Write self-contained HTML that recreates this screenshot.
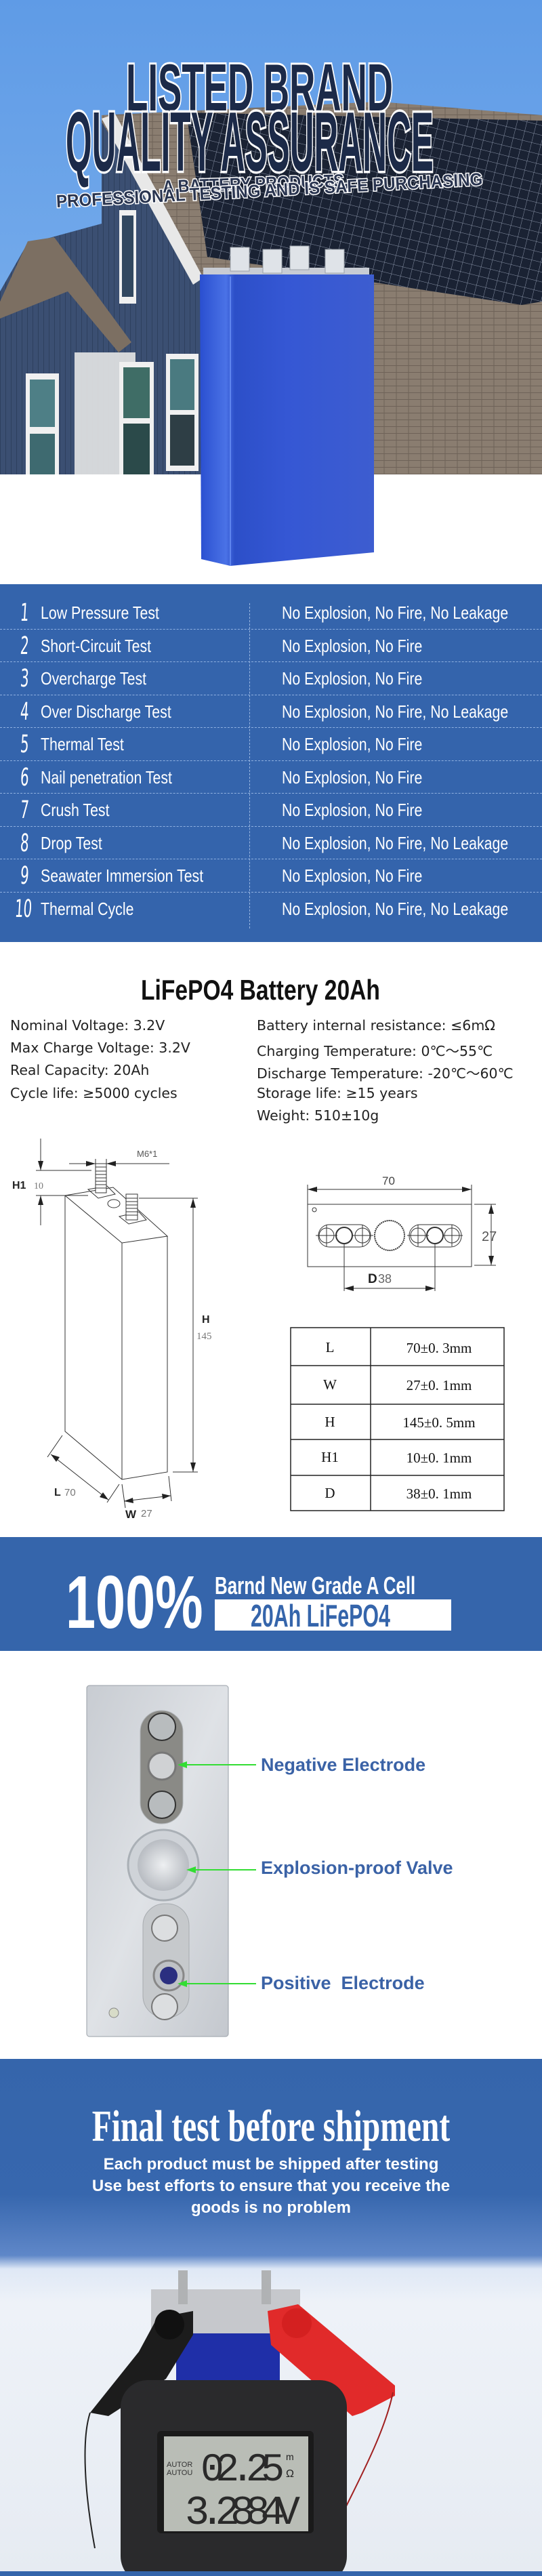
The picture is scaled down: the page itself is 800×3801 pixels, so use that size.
<!DOCTYPE html>
<html><head><meta charset="utf-8">
<style>
*{margin:0;padding:0;box-sizing:border-box}
body{width:800px;height:3801px;position:relative;background:#fff;overflow:hidden;font-family:"Liberation Sans",sans-serif}
.a{position:absolute;white-space:nowrap}
.cx{transform-origin:left center;display:inline-block}
.row{position:absolute;left:0;width:800px;height:48.5px;border-bottom:1px dashed #8fb0e0}
.row .n{position:absolute;left:30px;top:4px;font-size:36px;color:#fff;font-family:"DejaVu Sans",sans-serif;font-weight:normal;transform:scaleX(.55) skewX(-6deg);transform-origin:left}
.row .l{position:absolute;left:60px;top:9px;font-size:26px;color:#fff;transform:scaleX(.82);transform-origin:left}
.row .r{position:absolute;left:416px;top:9px;font-size:26px;color:#fff;transform:scaleX(.82);transform-origin:left}
.spec{position:absolute;font-family:"DejaVu Sans",sans-serif;font-size:20.5px;color:#222}
.lbl{position:absolute;left:385px;font-size:27px;font-weight:bold;color:#3a62a6;white-space:nowrap}
</style></head><body>

<!-- HERO -->
<svg class="a" style="left:0;top:0" width="800" height="860" viewBox="0 0 800 860">
<defs>
<linearGradient id="sky" x1="0" y1="0" x2="0" y2="1"><stop offset="0" stop-color="#5f9be6"/><stop offset="1" stop-color="#86b8ef"/></linearGradient>
<linearGradient id="bat" x1="0" y1="0" x2="1" y2="0"><stop offset="0" stop-color="#2a4fd0"/><stop offset=".15" stop-color="#4a72e6"/><stop offset=".2" stop-color="#2c4fc8"/><stop offset=".5" stop-color="#3557d4"/><stop offset="1" stop-color="#3d5dd0"/></linearGradient>
<pattern id="pv" width="14" height="14" patternUnits="userSpaceOnUse" patternTransform="rotate(14)"><rect width="14" height="14" fill="#1a2233"/><path d="M0 0H14M0 0V14" stroke="#8a94a8" stroke-width="1"/></pattern>
<pattern id="sh" width="18" height="10" patternUnits="userSpaceOnUse"><rect width="18" height="10" fill="#8a7d70"/><path d="M0 9.5H18M9 0V10" stroke="#6e6258" stroke-width="1"/></pattern>
<pattern id="sid" width="8" height="10" patternUnits="userSpaceOnUse"><rect width="8" height="10" fill="#3b4f72"/><path d="M0 0V10" stroke="#2a3a58" stroke-width="1.5"/></pattern>
</defs>
<rect width="800" height="860" fill="url(#sky)"/>
<polygon points="150,170 560,150 800,170 800,715 300,715 150,360" fill="url(#sh)"/>
<polygon points="275,166 800,178 800,445 770,450 306,379" fill="url(#pv)"/>
<polygon points="0,430 40,360 150,330 150,180 300,420 296,715 0,715" fill="url(#sid)"/>
<polygon points="0,445 41,356 80,350 194,505 175,520 100,430 0,470" fill="#7c6f62"/>
<polygon points="150,175 170,168 300,410 285,420" fill="#e8e8e8"/>
<polygon points="110,520 200,520 200,715 110,715" fill="#e6e6e6" opacity=".9"/>
<rect x="38" y="551" width="49" height="164" fill="#f0f0f0"/><rect x="44" y="560" width="37" height="70" fill="#4e7f86"/><rect x="44" y="640" width="37" height="70" fill="#3e6a70"/>
<rect x="176" y="534" width="51" height="172" fill="#f0f0f0"/><rect x="182" y="542" width="39" height="75" fill="#3f6d66"/><rect x="182" y="625" width="39" height="75" fill="#2b4a4a"/>
<rect x="245" y="522" width="48" height="173" fill="#f0f0f0"/><rect x="251" y="530" width="36" height="75" fill="#4a7a80"/><rect x="251" y="612" width="36" height="75" fill="#2e3e45"/>
<rect x="176" y="310" width="25" height="138" fill="#f0f0f0"/><rect x="180" y="318" width="17" height="120" fill="#324860"/>
<rect x="0" y="700" width="800" height="160" fill="#fff"/>
<rect x="300" y="395" width="245" height="22" fill="#c8ccd4"/>
<g fill="#dfe3e8" stroke="#9aa0a8"><rect x="340" y="365" width="28" height="35"/><rect x="388" y="368" width="28" height="35"/><rect x="428" y="363" width="28" height="35"/><rect x="480" y="368" width="28" height="35"/></g>
<polygon points="295,405 552,405 552,815 340,835 297,825" fill="url(#bat)"/>
<line x1="340" y1="408" x2="340" y2="835" stroke="#5f85ee" stroke-width="2"/>
</svg>
<div class="a" style="left:186px;top:80px;font-size:98px;font-weight:bold;color:#1c2a48;-webkit-text-stroke:6px #fff;paint-order:stroke fill;line-height:1"><span class="cx" style="transform:scaleX(.54)">LISTED BRAND</span></div>
<div class="a" style="left:97px;top:148px;font-size:124px;font-weight:bold;color:#1c2a48;-webkit-text-stroke:7px #fff;paint-order:stroke fill;line-height:1"><span class="cx" style="transform:scaleX(.4)">QUALITY ASSURANCE</span></div>
<div class="a" style="left:240px;top:255px;font-size:26px;font-weight:bold;color:#2a3550;-webkit-text-stroke:3px #fff;paint-order:stroke fill;transform:rotate(-2deg)"><span class="cx" style="transform:scaleX(.9)">A BATTERY PRODUCTS,</span></div>
<div class="a" style="left:83px;top:282px;font-size:26px;font-weight:bold;color:#2a3550;-webkit-text-stroke:3px #fff;paint-order:stroke fill;transform:rotate(-3deg);transform-origin:left"><span class="cx" style="transform:scaleX(.93)">PROFESSIONAL TESTING AND IS SAFE PURCHASING</span></div>

<!-- TEST TABLE -->
<div class="a" style="left:0;top:862px;width:800px;height:528px;background:#3464ac">
<div class="a" style="left:368px;top:28px;height:480px;border-left:1px dashed #9ab6e0"></div>
<div class="row" style="top:18px"><span class="n">1</span><span class="l">Low Pressure Test</span><span class="r">No Explosion, No Fire, No Leakage</span></div>
<div class="row" style="top:66.5px"><span class="n">2</span><span class="l">Short-Circuit Test</span><span class="r">No Explosion, No Fire</span></div>
<div class="row" style="top:115px"><span class="n">3</span><span class="l">Overcharge Test</span><span class="r">No Explosion, No Fire</span></div>
<div class="row" style="top:163.5px"><span class="n">4</span><span class="l">Over Discharge Test</span><span class="r">No Explosion, No Fire, No Leakage</span></div>
<div class="row" style="top:212px"><span class="n">5</span><span class="l">Thermal Test</span><span class="r">No Explosion, No Fire</span></div>
<div class="row" style="top:260.5px"><span class="n">6</span><span class="l">Nail penetration Test</span><span class="r">No Explosion, No Fire</span></div>
<div class="row" style="top:309px"><span class="n">7</span><span class="l">Crush Test</span><span class="r">No Explosion, No Fire</span></div>
<div class="row" style="top:357.5px"><span class="n">8</span><span class="l">Drop Test</span><span class="r">No Explosion, No Fire, No Leakage</span></div>
<div class="row" style="top:406px"><span class="n">9</span><span class="l">Seawater Immersion Test</span><span class="r">No Explosion, No Fire</span></div>
<div class="row" style="top:454.5px;border:none"><span class="n" style="left:22px">10</span><span class="l">Thermal Cycle</span><span class="r">No Explosion, No Fire, No Leakage</span></div>
</div>

<!-- SPECS -->
<div class="a" style="left:208px;top:1440px;font-size:42px;font-weight:bold;color:#111;line-height:1"><span class="cx" style="transform:scaleX(.8)">LiFePO4 Battery 20Ah</span></div>
<div class="spec" style="left:15px;top:1501px">Nominal Voltage: 3.2V</div>
<div class="spec" style="left:15px;top:1534px">Max Charge Voltage: 3.2V</div>
<div class="spec" style="left:15px;top:1567px">Real Capacity: 20Ah</div>
<div class="spec" style="left:15px;top:1601px">Cycle life: ≥5000 cycles</div>
<div class="spec" style="left:379px;top:1501px">Battery internal resistance: ≤6mΩ</div>
<div class="spec" style="left:379px;top:1534px">Charging Temperature: 0℃～55℃</div>
<div class="spec" style="left:379px;top:1567px">Discharge Temperature: -20℃～60℃</div>
<div class="spec" style="left:379px;top:1601px">Storage life: ≥15 years</div>
<div class="spec" style="left:379px;top:1634px">Weight: 510±10g</div>

<svg class="a" style="left:0;top:1650px" width="800" height="620" viewBox="0 1650 800 620" font-family="Liberation Sans">
<g fill="none" stroke="#333" stroke-width="1">
<polygon points="96,1764 167,1752 247,1824 180,1834"/>
<polyline points="96,1764 96,2112 180,2183 247,2172 247,1824"/>
<line x1="180" y1="1834" x2="180" y2="2183"/>
<path d="M130 1755 L158 1750 L170 1762 L145 1768 Z"/>
<rect x="141" y="1722" width="16" height="38" fill="#fff"/>
<path d="M141 1728h16M141 1733h16M141 1738h16M141 1743h16M141 1748h16M141 1753h16"/>
<path d="M176 1795 L205 1788 L216 1800 L190 1806 Z"/>
<rect x="186" y="1762" width="17" height="38" fill="#fff"/>
<path d="M186 1768h17M186 1773h17M186 1778h17M186 1783h17M186 1788h17M186 1793h17"/>
<ellipse cx="168" cy="1776" rx="9" ry="6"/>
<line x1="53" y1="1727" x2="135" y2="1727"/><line x1="53" y1="1764" x2="130" y2="1764"/>
<line x1="60" y1="1680" x2="60" y2="1727"/><line x1="60" y1="1764" x2="60" y2="1808"/>
<line x1="102" y1="1717" x2="250" y2="1717"/>
<line x1="141" y1="1710" x2="141" y2="1725"/><line x1="157" y1="1710" x2="157" y2="1725"/>
<line x1="205" y1="1768" x2="292" y2="1768"/><line x1="255" y1="2172" x2="292" y2="2172"/>
<line x1="285" y1="1768" x2="285" y2="2172"/>
<line x1="75" y1="2146" x2="160" y2="2213"/><line x1="70" y1="2150" x2="92" y2="2118"/><line x1="158" y1="2217" x2="176" y2="2190"/>
<line x1="183" y1="2215" x2="252" y2="2207"/><line x1="180" y1="2190" x2="185" y2="2225"/><line x1="249" y1="2178" x2="253" y2="2215"/>
</g>
<g fill="#222">
<polygon points="60,1727 56,1713 64,1713"/><polygon points="60,1764 56,1778 64,1778"/>
<polygon points="141,1717 127,1713 127,1721"/><polygon points="157,1717 171,1713 171,1721"/>
<polygon points="285,1768 281,1782 289,1782"/><polygon points="285,2172 281,2158 289,2158"/>
<polygon points="75,2146 88,2150 83,2157"/><polygon points="160,2213 147,2209 152,2202"/>
<polygon points="183,2215 196,2210 197,2218"/><polygon points="252,2207 239,2204 240,2212"/>
</g>
<text x="18" y="1754" font-size="16" font-weight="bold" fill="#222">H1</text><text x="50" y="1754" font-size="14" fill="#777" font-family="Liberation Serif">10</text>
<text x="202" y="1707" font-size="13" fill="#555">M6*1</text>
<text x="298" y="1952" font-size="16" font-weight="bold" fill="#222">H</text><text x="290" y="1976" font-size="15" fill="#777" font-family="Liberation Serif">145</text>
<text x="80" y="2207" font-size="16" font-weight="bold" fill="#222">L</text><text x="95" y="2207" font-size="15" fill="#777">70</text>
<text x="185" y="2240" font-size="17" font-weight="bold" fill="#222">W</text><text x="208" y="2238" font-size="15" fill="#777">27</text>

<g fill="none" stroke="#333" stroke-width="1">
<rect x="454" y="1777" width="242" height="92"/>
<line x1="454" y1="1748" x2="454" y2="1777"/><line x1="696" y1="1748" x2="696" y2="1777"/>
<line x1="454" y1="1755" x2="696" y2="1755"/>
<line x1="700" y1="1777" x2="732" y2="1777"/><line x1="700" y1="1867" x2="732" y2="1867"/>
<line x1="725" y1="1777" x2="725" y2="1867"/>
<circle cx="464" cy="1785" r="3"/>
<rect x="470" y="1807" width="77" height="33" rx="16"/><rect x="604" y="1807" width="77" height="33" rx="16"/>
<circle cx="482" cy="1823" r="11"/><circle cx="508" cy="1823" r="12" stroke-width="2"/><circle cx="535" cy="1823" r="11"/>
<circle cx="617" cy="1823" r="11"/><circle cx="642" cy="1823" r="12" stroke-width="2"/><circle cx="667" cy="1823" r="11"/>
<path d="M466 1823h32M519 1823h32M601 1823h32M655 1823h28M482 1807v32M535 1807v32M617 1807v32M667 1807v32"/>
<circle cx="575" cy="1823" r="22" stroke-dasharray="2 1" stroke-width="2"/>
<line x1="508" y1="1835" x2="508" y2="1905"/><line x1="642" y1="1835" x2="642" y2="1905"/>
<line x1="508" y1="1901" x2="642" y2="1901"/>
</g>
<g fill="#222">
<polygon points="454,1755 468,1751 468,1759"/><polygon points="696,1755 682,1751 682,1759"/>
<polygon points="725,1777 721,1791 729,1791"/><polygon points="725,1867 721,1853 729,1853"/>
<polygon points="508,1901 522,1897 522,1905"/><polygon points="642,1901 628,1897 628,1905"/>
</g>
<text x="564" y="1748" font-size="17" fill="#444">70</text>
<text x="711" y="1831" font-size="20" fill="#555">27</text>
<text x="543" y="1893" font-size="19" font-weight="bold" fill="#222">D</text><text x="558" y="1893" font-size="18" fill="#666">38</text>

<g fill="none" stroke="#222" stroke-width="1.5">
<rect x="429" y="1959" width="315" height="270"/>
<line x1="547" y1="1959" x2="547" y2="2229"/>
<line x1="429" y1="2015" x2="744" y2="2015"/><line x1="429" y1="2072" x2="744" y2="2072"/><line x1="429" y1="2124" x2="744" y2="2124"/><line x1="429" y1="2177" x2="744" y2="2177"/>
</g>
<g font-family="Liberation Serif" font-size="21" fill="#111" text-anchor="middle">
<text x="487" y="1995">L</text><text x="648" y="1996">70±0. 3mm</text>
<text x="487" y="2050">W</text><text x="648" y="2051">27±0. 1mm</text>
<text x="487" y="2105">H</text><text x="648" y="2106">145±0. 5mm</text>
<text x="487" y="2157">H1</text><text x="648" y="2158">10±0. 1mm</text>
<text x="487" y="2210">D</text><text x="648" y="2211">38±0. 1mm</text>
</g>
</svg>

<div class="a" style="left:0;top:2268px;width:800px;height:168px;background:#3565ab"></div>
<div class="a" style="left:97px;top:2310px;font-size:110px;font-weight:bold;color:#fff;line-height:1"><span class="cx" style="transform:scaleX(.72)">100%</span></div>
<div class="a" style="left:317px;top:2322px;font-size:36px;font-weight:bold;color:#fff;line-height:1"><span class="cx" style="transform:scaleX(.72)">Barnd New Grade A Cell</span></div>
<div class="a" style="left:317px;top:2360px;width:349px;height:46px;background:#fff"></div>
<div class="a" style="left:370px;top:2361px;font-size:46px;font-weight:bold;color:#3565ab;line-height:1"><span class="cx" style="transform:scaleX(.66)">20Ah LiFePO4</span></div>

<svg class="a" style="left:0;top:2470px" width="800" height="560" viewBox="0 2470 800 560">
<defs>
<linearGradient id="al" x1="0" y1="0" x2="1" y2="1"><stop offset="0" stop-color="#c8ccd2"/><stop offset=".5" stop-color="#dfe2e6"/><stop offset="1" stop-color="#c4c8ce"/></linearGradient>
<radialGradient id="vv"><stop offset="0" stop-color="#eef0f2"/><stop offset="1" stop-color="#b8bcc2"/></radialGradient>
</defs>
<rect x="128" y="2487" width="209" height="518" rx="4" fill="url(#al)" stroke="#9aa0a8"/>
<rect x="207" y="2524" width="63" height="167" rx="31" fill="#8a8a86" stroke="#b0b4b8"/>
<circle cx="239" cy="2548" r="20" fill="#b8bcbe" stroke="#333" stroke-width="2"/>
<circle cx="239" cy="2606" r="20" fill="#d0d2d4" stroke="#777" stroke-width="3"/>
<circle cx="239" cy="2663" r="20" fill="#b8bcbe" stroke="#333" stroke-width="2"/>
<circle cx="241" cy="2752" r="52" fill="#cfd3d8" stroke="#aab0b6" stroke-width="3"/>
<circle cx="241" cy="2752" r="38" fill="url(#vv)"/>
<rect x="211" y="2809" width="68" height="168" rx="32" fill="#c6c9cc" stroke="#a8acb0"/>
<circle cx="243" cy="2845" r="19" fill="#dcdee0" stroke="#777" stroke-width="2"/>
<circle cx="249" cy="2915" r="22" fill="#bfc2c6" stroke="#888" stroke-width="3"/>
<circle cx="249" cy="2915" r="13" fill="#2b2f80"/>
<circle cx="243" cy="2961" r="19" fill="#dcdee0" stroke="#777" stroke-width="2"/>
<circle cx="168" cy="2970" r="7" fill="#d8dcc8" stroke="#888"/>
<g stroke="#33dd33" stroke-width="2"><line x1="270" y1="2604" x2="378" y2="2604"/><line x1="283" y1="2759" x2="378" y2="2759"/><line x1="270" y1="2927" x2="378" y2="2927"/></g>
<g fill="#33dd33"><polygon points="262,2604 276,2599 276,2609"/><polygon points="275,2759 289,2754 289,2764"/><polygon points="262,2927 276,2922 276,2932"/></g>
</svg>
<div class="lbl" style="top:2589px">Negative Electrode</div>
<div class="lbl" style="top:2741px">Explosion-proof Valve</div>
<div class="lbl" style="top:2911px">Positive&nbsp; Electrode</div>

<div class="a" style="left:0;top:3038px;width:800px;height:763px;background:linear-gradient(#3565ab 0px,#3767ae 200px,#5f87c8 290px,#dfe8f6 310px,#eef2f8 360px,#e6ebf2 763px)"></div>
<div class="a" style="left:0;top:3105px;width:800px;text-align:center;font-family:'Liberation Serif',serif;font-size:66px;font-weight:bold;color:#fff;line-height:1"><span style="display:inline-block;transform:scaleX(.72)">Final test before shipment</span></div>
<div class="a" style="left:0;top:3178px;width:800px;text-align:center;font-size:24px;font-weight:bold;color:#fff;line-height:32px">Each product must be shipped after testing<br>Use best efforts to ensure that you receive the<br>goods is no problem</div>
<svg class="a" style="left:0;top:3330px" width="800" height="471" viewBox="0 3330 800 471">
<rect x="223" y="3378" width="220" height="65" fill="#c6c8cc"/>
<rect x="263" y="3350" width="14" height="50" fill="#b0b2b4"/><rect x="386" y="3350" width="14" height="50" fill="#b0b2b4"/>
<rect x="260" y="3443" width="153" height="75" fill="#1f2fa8"/>
<polygon points="232,3420 285,3410 285,3445 245,3510 160,3565 133,3560 205,3470" fill="#1c1c1c"/>
<circle cx="250" cy="3430" r="22" fill="#111"/>
<polygon points="395,3410 440,3400 583,3520 583,3535 535,3560 520,3565 400,3460" fill="#e12a2a"/>
<circle cx="438" cy="3428" r="22" fill="#d42020"/>
<path d="M133 3560 C120 3600 125 3680 140 3760" stroke="#222" stroke-width="2" fill="none"/>
<path d="M580 3530 C570 3580 540 3640 510 3700" stroke="#a02020" stroke-width="2" fill="none"/>
<rect x="178" y="3512" width="334" height="300" rx="40" fill="#2a2a2c"/>
<rect x="232" y="3587" width="231" height="151" rx="6" fill="#1a1a1a"/>
<rect x="242" y="3595" width="213" height="140" fill="#b9bdb6"/>
<text x="296" y="3660" font-family="Liberation Mono" font-size="58" fill="#2a2a2a" textLength="124">02.25</text>
<text x="246" y="3640" font-family="Liberation Sans" font-size="11" fill="#333">AUTOR</text>
<text x="246" y="3652" font-family="Liberation Sans" font-size="11" fill="#333">AUTOU</text>
<text x="422" y="3630" font-size="14" fill="#222">m</text><text x="422" y="3655" font-size="16" fill="#222">Ω</text>
<text x="273" y="3724" font-family="Liberation Mono" font-size="60" fill="#2a2a2a" textLength="170">3.2884V</text>
<rect x="0" y="3794" width="800" height="7" fill="#3565ab"/>
</svg>
</body></html>
